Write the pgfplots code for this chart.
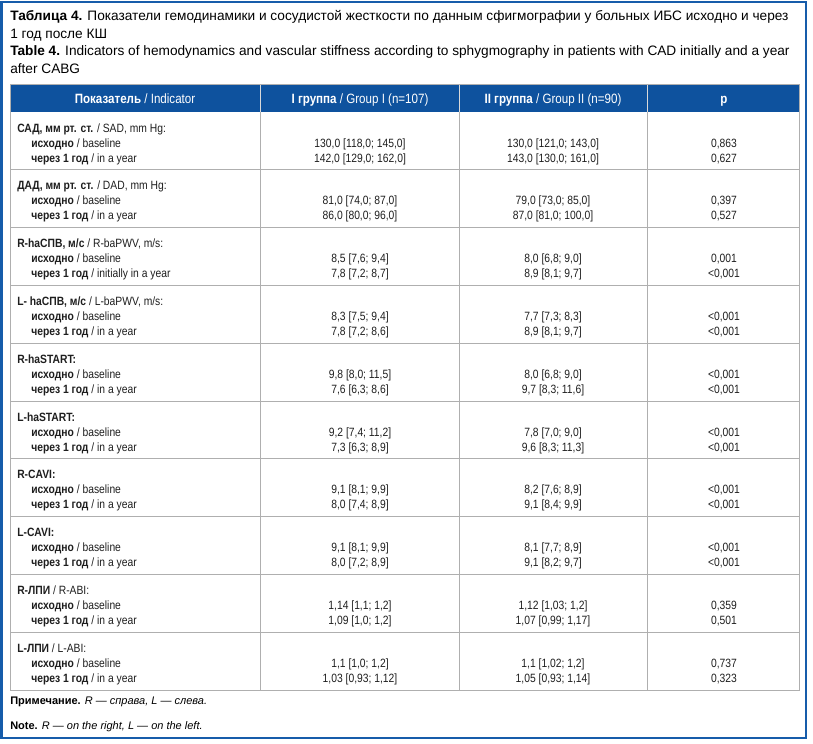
\documentclass[border=0pt]{standalone}
\usepackage{fontspec}
\setmainfont{Liberation Sans}
\newfontfamily\narrow[FakeStretch=0.86]{Liberation Sans}
\usepackage{pgfplots}
\pgfplotsset{compat=1.18}
\definecolor{hdr}{RGB}{14,82,158}
\definecolor{frm}{RGB}{22,92,170}
\definecolor{grd}{RGB}{175,175,175}
\definecolor{txt}{RGB}{30,30,30}
\newcommand\bodyfont{\narrow\fontsize{9}{10}\selectfont}
\newcommand\headfont{\narrow\fontsize{10.1}{11}\selectfont}
\newcommand\titlefont{\fontsize{10.25}{12}\selectfont}
\newcommand\notefont{\fontsize{8.25}{9}\selectfont}
\tikzset{bl/.style={anchor=base west,font=\bodyfont,text=txt,inner sep=0pt},
         bc/.style={anchor=base,font=\bodyfont,text=txt,inner sep=0pt},
         hc/.style={anchor=base,font=\headfont,text=white,inner sep=0pt}}
\newcommand\tabrow[9]{%
  \node[bl] at (axis cs:17,#1+20.5) {#2};
  \node[bl] at (axis cs:31,#1+35) {\textbf{исходно} / baseline};
  \node[bl] at (axis cs:31,#1+50) {\textbf{через 1 год} / #9};
  \node[bc] at (axis cs:360,#1+35) {#3};
  \node[bc] at (axis cs:360,#1+50) {#4};
  \node[bc] at (axis cs:553,#1+35) {#5};
  \node[bc] at (axis cs:553,#1+50) {#6};
  \node[bc] at (axis cs:724,#1+35) {#7};
  \node[bc] at (axis cs:724,#1+50) {#8};
}
\begin{document}
\begin{tikzpicture}
\begin{axis}[scale only axis, width=609.75pt, height=557.25pt,
  xmin=0, xmax=813, ymin=0, ymax=743, y dir=reverse, hide axis, clip=false]
\path (axis cs:0,0) rectangle (axis cs:813,743);
% outer frame
\draw[frm, line width=1.5pt] (axis cs:1.5,1.5) rectangle (axis cs:806,738);
% title
\node[anchor=base west,font=\titlefont,inner sep=0pt] at (axis cs:10,20) {\textbf{Таблица 4.} Показатели гемодинамики и сосудистой жесткости по данным сфигмографии у больных ИБС исходно и через};
\node[anchor=base west,font=\titlefont,inner sep=0pt] at (axis cs:10,38) {1 год после КШ};
\node[anchor=base west,font=\titlefont,inner sep=0pt] at (axis cs:10,55) {\textbf{Table 4.} Indicators of hemodynamics and vascular stiffness according to sphygmography in patients with CAD initially and a year};
\node[anchor=base west,font=\titlefont,inner sep=0pt] at (axis cs:10,73) {after CABG};
% header
\fill[hdr] (axis cs:10,84) rectangle (axis cs:799,112);
\pgfplotsinvokeforeach{260,459,647}{
  \draw[white!85!black, line width=0.75pt] (axis cs:#1,84) -- (axis cs:#1,112);
}
\node[hc] at (axis cs:135,103) {\textbf{Показатель} / Indicator};
\node[hc] at (axis cs:360,103) {\textbf{I группа} / Group I (n=107)};
\node[hc] at (axis cs:553,103) {\textbf{II группа} / Group II (n=90)};
\node[hc] at (axis cs:724,103) {\textbf{p}};
% grid
\draw[grd, line width=0.75pt] (axis cs:10,84) rectangle (axis cs:799,690);
\pgfplotsinvokeforeach{169,227,285,343,401,458,516,574,632}{
  \draw[grd, line width=0.75pt] (axis cs:10,#1) -- (axis cs:799,#1);
}
\pgfplotsinvokeforeach{260,459,647}{
  \draw[grd, line width=0.75pt] (axis cs:#1,112) -- (axis cs:#1,690);
}
% rows
\tabrow{112}{\textbf{САД, мм рт. ст.} / SAD, mm Hg:}{130,0 [118,0; 145,0]}{142,0 [129,0; 162,0]}{130,0 [121,0; 143,0]}{143,0 [130,0; 161,0]}{0,863}{0,627}{in a year}
\tabrow{169}{\textbf{ДАД, мм рт. ст.} / DAD, mm Hg:}{81,0 [74,0; 87,0]}{86,0 [80,0; 96,0]}{79,0 [73,0; 85,0]}{87,0 [81,0; 100,0]}{0,397}{0,527}{in a year}
\tabrow{227}{\textbf{R-haСПВ, м/с} / R-baPWV, m/s:}{8,5 [7,6; 9,4]}{7,8 [7,2; 8,7]}{8,0 [6,8; 9,0]}{8,9 [8,1; 9,7]}{0,001}{<0,001}{initially in a year}
\tabrow{285}{\textbf{L- haСПВ, м/с} / L-baPWV, m/s:}{8,3 [7,5; 9,4]}{7,8 [7,2; 8,6]}{7,7 [7,3; 8,3]}{8,9 [8,1; 9,7]}{<0,001}{<0,001}{in a year}
\tabrow{343}{\textbf{R-haSTART:}}{9,8 [8,0; 11,5]}{7,6 [6,3; 8,6]}{8,0 [6,8; 9,0]}{9,7 [8,3; 11,6]}{<0,001}{<0,001}{in a year}
\tabrow{401}{\textbf{L-haSTART:}}{9,2 [7,4; 11,2]}{7,3 [6,3; 8,9]}{7,8 [7,0; 9,0]}{9,6 [8,3; 11,3]}{<0,001}{<0,001}{in a year}
\tabrow{458}{\textbf{R-CAVI:}}{9,1 [8,1; 9,9]}{8,0 [7,4; 8,9]}{8,2 [7,6; 8,9]}{9,1 [8,4; 9,9]}{<0,001}{<0,001}{in a year}
\tabrow{516}{\textbf{L-CAVI:}}{9,1 [8,1; 9,9]}{8,0 [7,2; 8,9]}{8,1 [7,7; 8,9]}{9,1 [8,2; 9,7]}{<0,001}{<0,001}{in a year}
\tabrow{574}{\textbf{R-ЛПИ} / R-ABI:}{1,14 [1,1; 1,2]}{1,09 [1,0; 1,2]}{1,12 [1,03; 1,2]}{1,07 [0,99; 1,17]}{0,359}{0,501}{in a year}
\tabrow{632}{\textbf{L-ЛПИ} / L-ABI:}{1,1 [1,0; 1,2]}{1,03 [0,93; 1,12]}{1,1 [1,02; 1,2]}{1,05 [0,93; 1,14]}{0,737}{0,323}{in a year}
% notes
\node[anchor=base west,font=\notefont,inner sep=0pt] at (axis cs:10,704) {\textbf{Примечание.} \textit{R — справа, L — слева.}};
\node[anchor=base west,font=\notefont,inner sep=0pt] at (axis cs:10,729) {\textbf{Note.} \textit{R — on the right, L — on the left.}};
\end{axis}
\end{tikzpicture}
\end{document}
